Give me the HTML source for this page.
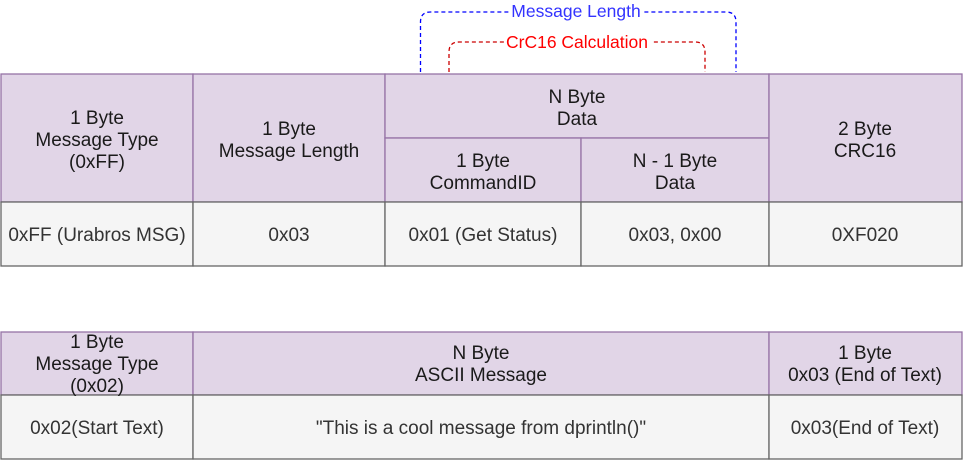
<!DOCTYPE html>
<html><head><meta charset="utf-8"><style>
html,body{margin:0;padding:0;background:#fff;}
svg{display:block;font-family:"Liberation Sans",Arial,sans-serif;font-size:19px;}
</style></head><body>
<svg width="964" height="460" viewBox="0 0 964 460" xmlns="http://www.w3.org/2000/svg">
<path d="M420.5 72 V22 Q420.5 12 430.5 12 H726 Q736 12 736 22 V72" fill="none" stroke="#0000ff" stroke-width="1.3" stroke-dasharray="4 3"/>
<rect x="510" y="1" width="133" height="20" fill="#fff"/>
<text x="576" y="17" text-anchor="middle" fill="#3333ff" font-size="17.5">Message Length</text>
<path d="M449 72 V52 Q449 42 459 42 H695 Q705 42 705 52 V72" fill="none" stroke="#cc0000" stroke-width="1.3" stroke-dasharray="4 3"/>
<rect x="504" y="32" width="147" height="20" fill="#fff"/>
<text x="577" y="48" text-anchor="middle" fill="#ff0000" font-size="17.5">CrC16 Calculation</text>

<g fill="#e1d5e7" stroke="#9673a6" stroke-width="1.3">
<rect x="1" y="74" width="192" height="128"/>
<rect x="193" y="74" width="192" height="128"/>
<rect x="385" y="74" width="384" height="64"/>
<rect x="385" y="138" width="196" height="64"/>
<rect x="581" y="138" width="188" height="64"/>
<rect x="769" y="74" width="193" height="128"/>
</g>
<g fill="#f5f5f5" stroke="#666" stroke-width="1.3">
<rect x="1" y="202" width="192" height="64"/>
<rect x="193" y="202" width="192" height="64"/>
<rect x="385" y="202" width="196" height="64"/>
<rect x="581" y="202" width="188" height="64"/>
<rect x="769" y="202" width="193" height="64"/>
</g>
<g text-anchor="middle" fill="#1a1a1a">
<text x="97" y="124">1 Byte</text><text x="97" y="146">Message Type</text><text x="97" y="168">(0xFF)</text>
<text x="289" y="135">1 Byte</text><text x="289" y="157">Message Length</text>
<text x="577" y="103">N Byte</text><text x="577" y="125">Data</text>
<text x="483" y="167">1 Byte</text><text x="483" y="189">CommandID</text>
<text x="675" y="167">N - 1  Byte</text><text x="675" y="189">Data</text>
<text x="865" y="135">2 Byte</text><text x="865" y="157">CRC16</text>
</g>
<g text-anchor="middle" fill="#333">
<text x="97" y="241">0xFF (Urabros MSG)</text>
<text x="289" y="241">0x03</text>
<text x="483" y="241">0x01 (Get Status)</text>
<text x="675" y="241">0x03, 0x00</text>
<text x="865" y="241">0XF020</text>
</g>

<g fill="#e1d5e7" stroke="#9673a6" stroke-width="1.3">
<rect x="1" y="332" width="192" height="63"/>
<rect x="193" y="332" width="576" height="63"/>
<rect x="769" y="332" width="193" height="63"/>
</g>
<g fill="#f5f5f5" stroke="#666" stroke-width="1.3">
<rect x="1" y="395" width="192" height="64"/>
<rect x="193" y="395" width="576" height="64"/>
<rect x="769" y="395" width="193" height="64"/>
</g>
<g text-anchor="middle" fill="#1a1a1a">
<text x="97" y="348">1 Byte</text><text x="97" y="370">Message Type</text><text x="97" y="392">(0x02)</text>
<text x="481" y="359">N Byte</text><text x="481" y="381">ASCII Message</text>
<text x="865" y="359">1 Byte</text><text x="865" y="381">0x03 (End of Text)</text>
</g>
<g text-anchor="middle" fill="#333">
<text x="97" y="434">0x02(Start Text)</text>
<text x="481" y="434">"This is a cool message from dprintln()"</text>
<text x="865" y="434">0x03(End of Text)</text>
</g>
</svg>
</body></html>
